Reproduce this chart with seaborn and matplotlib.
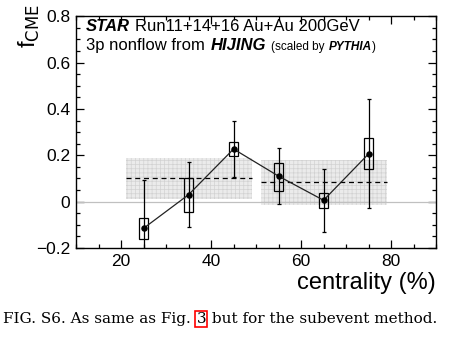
import numpy as np
import pandas as pd
import matplotlib
matplotlib.use("Agg")
import matplotlib.pyplot as plt
import seaborn as sns
from matplotlib.patches import Rectangle
from matplotlib.ticker import MultipleLocator

# ---- data ----
centrality = [25, 35, 45, 55, 65, 75]
fcme = [-0.115, 0.030, 0.227, 0.110, 0.006, 0.206]
stat_err = [0.208, 0.140, 0.120, 0.120, 0.136, 0.235]
sys_lo = [-0.160, -0.043, 0.196, 0.046, -0.026, 0.139]
sys_hi = [-0.070, 0.100, 0.256, 0.168, 0.037, 0.275]
band_x0 = [21, 51]
band_x1 = [49, 79]
band_mean = [0.100, 0.083]
band_lo = [0.013, -0.013]
band_hi = [0.190, 0.180]

df = pd.DataFrame({"centrality": centrality, "fcme": fcme})

sns.set_theme(style="ticks")
plt.rcParams["font.family"] = ["Liberation Sans", "DejaVu Sans"]
plt.rcParams["hatch.linewidth"] = 0.5
for k in ["text.color", "axes.labelcolor", "xtick.color", "ytick.color"]:
    plt.rcParams[k] = "black"

fig = plt.figure(figsize=(4.5, 3.44), dpi=100)
ax = fig.add_axes([0.169, 0.279, 0.800, 0.674])

# bands
for x0, x1, m, lo, hi in zip(band_x0, band_x1, band_mean, band_lo, band_hi):
    ax.add_patch(Rectangle((x0, lo), x1 - x0, hi - lo, facecolor="#ebebeb",
                           edgecolor="none", lw=0, zorder=1))
    ax.add_patch(Rectangle((x0, lo), x1 - x0, hi - lo, facecolor="none",
                           edgecolor="#d2d2d2", hatch="++++", lw=0, zorder=1.1))
    ax.plot([x0, x1], [m, m], ls=(0, (4, 3)), color="black", lw=0.9, zorder=2)

ax.axhline(0, color="#c0c0c0", lw=0.9, zorder=1.5)

# systematic boxes
for x, lo, hi in zip(centrality, sys_lo, sys_hi):
    ax.add_patch(Rectangle((x - 1, lo), 2, hi - lo, facecolor="none",
                           edgecolor="black", lw=0.9, zorder=4))

ax.errorbar(centrality, fcme, yerr=stat_err, fmt="none", ecolor="black",
            elinewidth=0.9, capsize=1.5, capthick=0.9, zorder=3)
sns.lineplot(data=df, x="centrality", y="fcme", color="#222222", lw=0.9,
             ax=ax, zorder=5)
sns.scatterplot(data=df, x="centrality", y="fcme", color="black", s=22,
                edgecolor="black", linewidth=0, ax=ax, zorder=6)

ax.set_xlim(10, 90)
ax.set_ylim(-0.2, 0.8)
ax.set_xticks([20, 40, 60, 80])
ax.set_yticks([-0.2, 0, 0.2, 0.4, 0.6, 0.8])
ax.set_yticklabels(["\u22120.2", "0", "0.2", "0.4", "0.6", "0.8"])
ax.xaxis.set_minor_locator(MultipleLocator(5))
ax.yaxis.set_minor_locator(MultipleLocator(0.05))
ax.tick_params(which="both", direction="in", top=True, right=True,
               labelsize=12.5, width=0.9, color="black", labelcolor="black",
               pad=4)
ax.tick_params(which="major", length=6)
ax.tick_params(which="minor", length=3)
for s in ax.spines.values():
    s.set_linewidth(1.0)
    s.set_color("black")
ax.set_xlabel("")
ax.set_ylabel("")

fig.text(0.969, 0.178, "centrality (%)", ha="right", va="center", fontsize=17)
fig.text(0.066, 0.988, r"f$_{\mathrm{CME}}$", ha="center", va="top",
         rotation=90, fontsize=17)

fig.canvas.draw()
r = fig.canvas.get_renderer()
W = fig.bbox.width
H = fig.bbox.height


def chain(parts, x_px, y_px):
    x = x_px
    for txt, kw, gap in parts:
        t = fig.text(x / W, 1 - y_px / H, txt, va="baseline", **kw)
        bb = t.get_window_extent(r)
        x = bb.x1 + gap
    return x


big = dict(fontsize=12)
bigb = dict(fontsize=12, fontweight="bold", style="italic")
small = dict(fontsize=8.5)
smallb = dict(fontsize=8.5, fontweight="bold", style="italic")
chain([("STAR", bigb, 5), ("Run11+14+16 Au+Au 200GeV", big, 0)], 86, 31)
chain([("3p nonflow from", big, 6), ("HIJING", bigb, 5), ("(scaled by", small, 4),
       ("PYTHIA", smallb, 0), (")", small, 0)], 86, 50)

# caption
cap_font = dict(fontsize=11.0, family=["DejaVu Serif"])
y_cap = 1 - 323 / H
t1 = fig.text(3 / W, y_cap, "FIG. S6. As same as Fig. ",
              va="baseline", **cap_font)
bb = t1.get_window_extent(r)
t2 = fig.text((bb.x1 + 1) / W, y_cap, "3", va="baseline", **cap_font,
              bbox=dict(boxstyle="square,pad=0.08", facecolor="none",
                        edgecolor="red", lw=1.2))
bb2 = t2.get_window_extent(r)
fig.text((bb2.x1 + 1) / W, y_cap, " but for the subevent method.",
         va="baseline", **cap_font)

fig.savefig("out.png", dpi=100)
